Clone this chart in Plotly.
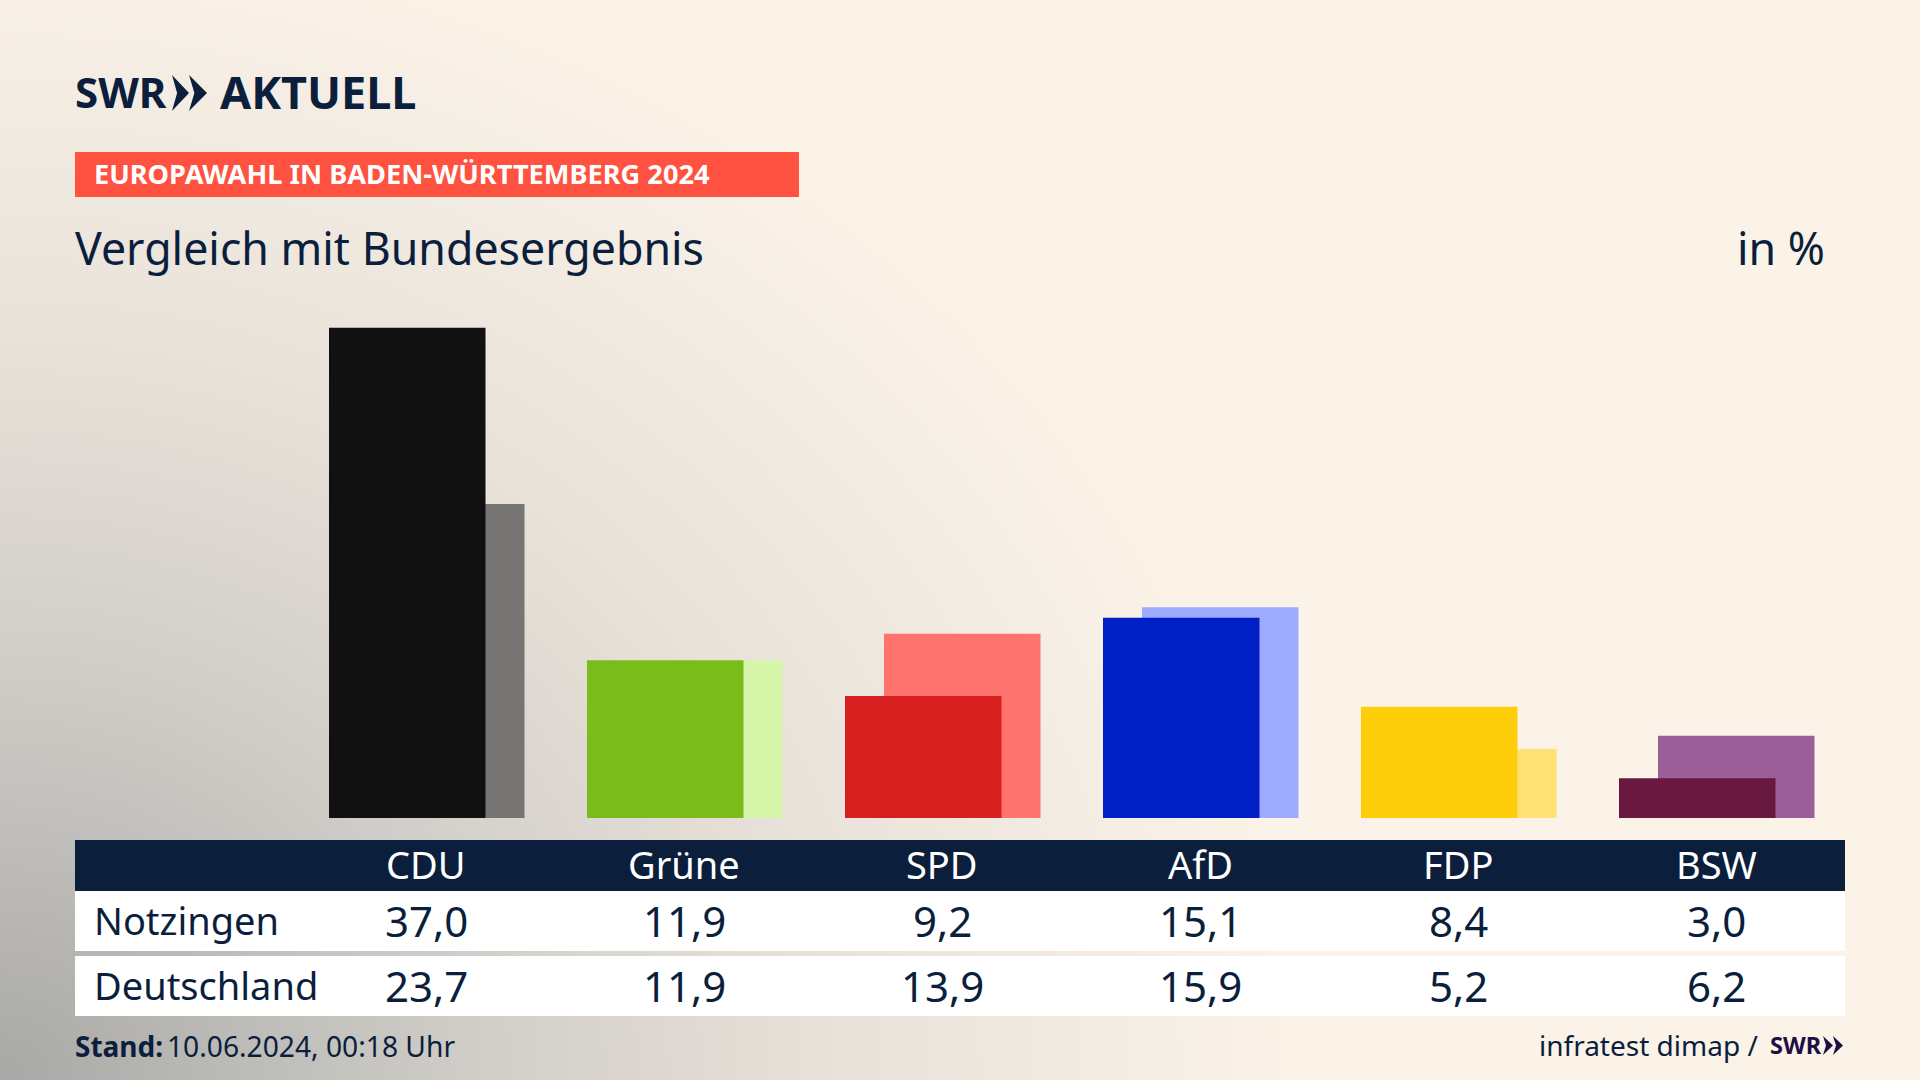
import plotly.graph_objects as go

parties = ["CDU", "Grüne", "SPD", "AfD", "FDP", "BSW"]
notzingen = [37.0, 11.9, 9.2, 15.1, 8.4, 3.0]
deutschland = [23.7, 11.9, 13.9, 15.9, 5.2, 6.2]
dark_colors = ["#111111", "#7ABC19", "#D81F1F", "#0020C6", "#FFCE0A", "#691940"]
light_colors = ["#767573", "#D6F6A9", "#FF736E", "#9EABFF", "#FFE273", "#9A5F99"]

NAVY = "#0B1F3D"
PURPLE = "#1F0F45"
FONT = "Noto Sans"
W, H = 1920, 1080


def px(x):
    return x / W


def py(y):
    return 1 - y / H


def rect(x0, y0, x1, y1, color):
    return dict(type="rect", xref="paper", yref="paper", x0=px(x0), x1=px(x1),
                y0=py(y0), y1=py(y1), fillcolor=color, line_width=0, layer="below")


def chevron(a, w, y0, y1, color):
    # one pointed chevron of the SWR logo
    ym = (y0 + y1) / 2
    pts = [(a, y0), (a + w, ym), (a, y1), (a + w * 0.3, ym)]
    path = "M" + " L".join(f"{px(p)},{py(q)}" for p, q in pts) + " Z"
    return dict(type="path", xref="paper", yref="paper", path=path, fillcolor=color, line_width=0)


def label(text, x, y, size, color=NAVY, anchor="left", xref="paper"):
    return dict(text=text, x=px(x) if xref == "paper" else x, y=py(y), xref=xref, yref="paper",
                xanchor=anchor, yanchor="middle", showarrow=False,
                xshift=0 if xref == "paper" else -1,
                font=dict(family=FONT, size=size, color=color))


def fmt(v):
    return f"{v:.1f}".replace(".", ",")


fig = go.Figure()
fig.add_trace(go.Bar(x=parties, y=deutschland, name="Deutschland", marker=dict(color=light_colors, line_width=0),
                     width=156.5 / 258, offset=-59 / 258))
fig.add_trace(go.Bar(x=parties, y=notzingen, name="Notzingen", marker=dict(color=dark_colors, line_width=0),
                     width=156.5 / 258, offset=-98 / 258))

shapes = [
    rect(75, 152, 799, 197, "#FF5240"),
    rect(75, 840, 1845, 891, NAVY),
    rect(75, 891, 1845, 951, "#FFFFFF"),
    rect(75, 956, 1845, 1016, "#FFFFFF"),
    chevron(172, 17, 75, 111, NAVY),
    chevron(189, 18, 75, 111, NAVY),
    chevron(1823, 10, 1036, 1055, PURPLE),
    chevron(1833, 10, 1036, 1055, PURPLE),
]

annotations = [
    label("<b>SWR</b>", 73, 92, 42),
    label("<b>AKTUELL</b>", 218, 92, 45),
    label("<b>EUROPAWAHL IN BADEN-WÜRTTEMBERG 2024</b>", 92, 174, 27.2, color="#FFFFFF"),
    label("Vergleich mit Bundesergebnis", 73, 247, 44.7),
    label("in %", 1827, 247, 44.7, anchor="right"),
    label("Notzingen", 92, 920, 38),
    label("Deutschland", 92, 985, 38),
    label("<b>Stand:</b>", 73, 1046, 28),
    label("10.06.2024, 00:18 Uhr", 165, 1046, 28.2),
    label("infratest dimap /", 1760, 1045, 28, anchor="right"),
    label("<b>SWR</b>", 1768, 1045, 23.5, color=PURPLE),
]
for party, a, b in zip(parties, notzingen, deutschland):
    annotations.append(label(party, party, 864, 38, color="#FFFFFF", anchor="center", xref="x"))
    annotations.append(label(fmt(a), party, 920, 42, anchor="center", xref="x"))
    annotations.append(label(fmt(b), party, 985, 42, anchor="center", xref="x"))

fig.update_layout(
    width=W, height=H, margin=dict(l=0, r=0, t=0, b=0),
    barmode="overlay", showlegend=False,
    paper_bgcolor="rgba(0,0,0,0)", plot_bgcolor="rgba(0,0,0,0)",
    xaxis=dict(type="category", categoryorder="array", categoryarray=parties,
               range=[-427 / 258, (W - 427) / 258], visible=False),
    yaxis=dict(domain=[py(818), py(327.6)], range=[0, 37], visible=False),
    shapes=shapes, annotations=annotations,
)

background = ("radial-gradient(ellipse 1300px 1150px at 0 100%, #a8a8a6 0%, #cfccc7 35%, "
              "#e9e2da 65%, #fbf3e8 100%)")
fig.write_html("out.html", config={"displayModeBar": False},
               post_script=f"document.body.style.margin='0';document.body.style.background='{background}';")
